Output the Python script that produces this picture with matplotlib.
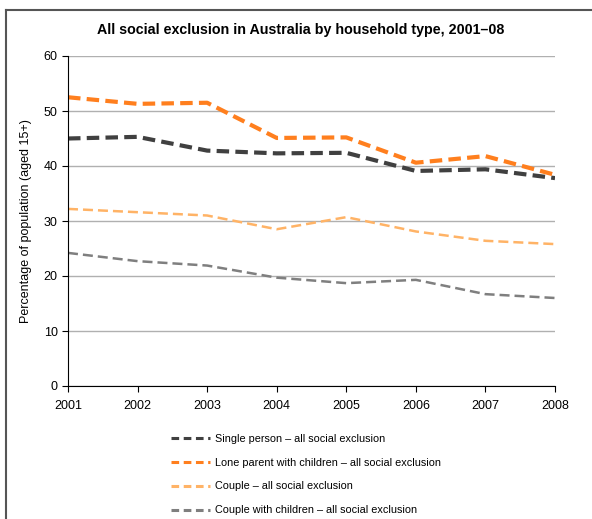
import matplotlib
matplotlib.use("Agg")
import matplotlib.pyplot as plt
from matplotlib.lines import Line2D

plt.rcParams['font.family'] = ['Liberation Sans', 'DejaVu Sans']

# data
years = [2001, 2002, 2003, 2004, 2005, 2006, 2007, 2008]
single_person = [45.0, 45.3, 42.8, 42.3, 42.4, 39.1, 39.4, 37.8]
lone_parent = [52.5, 51.3, 51.5, 45.1, 45.2, 40.6, 41.8, 38.4]
couple = [32.2, 31.6, 31.0, 28.5, 30.7, 28.1, 26.4, 25.8]
couple_children = [24.2, 22.7, 21.9, 19.7, 18.7, 19.3, 16.7, 16.0]

labels = ["Single person \u2013 all social exclusion",
          "Lone parent with children \u2013 all social exclusion",
          "Couple \u2013 all social exclusion",
          "Couple with children \u2013 all social exclusion"]

fig = plt.figure(figsize=(5.92, 5.19), dpi=100)
ax = fig.add_axes([68/592, 1 - 386/519, 487/592, 330/519])

# outer frame (left and top edges visible)
fig.add_artist(Line2D([6/592, 6/592], [0, 1 - 10/519], transform=fig.transFigure,
                      color='#555555', lw=1.5))
fig.add_artist(Line2D([6/592, 1], [1 - 10/519, 1 - 10/519], transform=fig.transFigure,
                      color='#555555', lw=1.5))

ax.plot(years, single_person, color='#404040', lw=3, ls=(0, (3, 1.5)), label=labels[0])
ax.plot(years, lone_parent, color='#FF7F1E', lw=3, ls=(0, (3, 1.5)), label=labels[1])
ax.plot(years, couple, color='#FFB366', lw=1.8, ls=(0, (4, 2)), label=labels[2])
ax.plot(years, couple_children, color='#7F7F7F', lw=1.8, ls=(0, (4, 2)), label=labels[3])

ax.set_xlim(2001, 2008)
ax.set_ylim(0, 60)
ax.set_xticks(years)
ax.set_yticks(range(0, 61, 10))
ax.yaxis.grid(True, color='#B0B0B0', lw=1)
ax.set_axisbelow(True)
for s in ['top', 'right']:
    ax.spines[s].set_visible(False)
ax.spines['left'].set_color('black')
ax.spines['bottom'].set_color('black')
ax.tick_params(axis='both', direction='out', length=4, labelsize=9, colors='black')
ax.tick_params(axis='x', pad=6)

ax.set_ylabel('Percentage of population (aged 15+)', fontsize=9, labelpad=8)
fig.text(301/592, 1 - 30/519, 'All social exclusion in Australia by household type, 2001\u201308',
         ha='center', va='center', fontsize=10.3, fontweight='bold')

leg = fig.legend(loc='upper left', bbox_to_anchor=(161/592, 1 - 424/519), frameon=False,
                 fontsize=7.8, handlelength=3.6, labelspacing=1.28, handletextpad=0.5)
for h in leg.get_lines():
    h.set_linewidth(2.2)
    h.set_linestyle((0, (2.5, 1.5)))

fig.savefig('out.png', dpi=100)
